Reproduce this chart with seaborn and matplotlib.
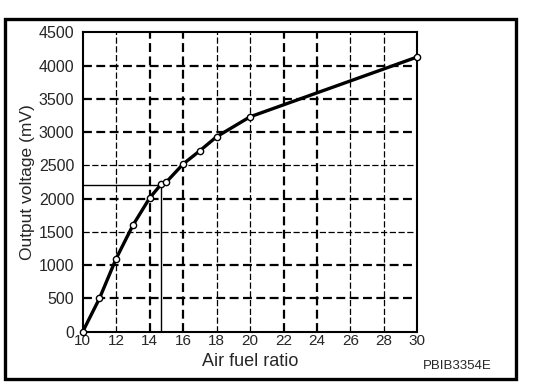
import matplotlib
matplotlib.use('Agg')
import matplotlib.pyplot as plt
import seaborn as sns
import pandas as pd
from matplotlib.patches import Rectangle

# valores
afr = [10, 11, 12, 13, 14, 14.7, 15, 16, 17, 18, 20, 30]
tensao = [0, 500, 1100, 1600, 2010, 2220, 2250, 2520, 2720, 2930, 3230, 4130]
x_ticks = [10, 12, 14, 16, 18, 20, 22, 24, 26, 28, 30]
y_ticks = [0, 500, 1000, 1500, 2000, 2500, 3000, 3500, 4000, 4500]
# linhas de grade grossas / finas
x_grossas = [14, 16, 22, 24]
x_finas = [12, 18, 20, 26, 28]
y_grossas = [500, 1000, 2000, 3000, 3500, 4000]
y_finas = [1500, 2500]
# ponto de referencia (estequiometrico)
ref_x = 14.7
ref_y = 2200

df = pd.DataFrame({'Air fuel ratio': afr, 'Output voltage (mV)': tensao})

sns.set_style('white')
plt.rcParams['font.family'] = ['Liberation Sans', 'DejaVu Sans']

fig = plt.figure(figsize=(5.6, 3.92), dpi=100)
ax = fig.add_axes([0.1477, 0.1538, 0.5977, 0.7638])

#grade tracejada
for v in x_grossas:
    ax.axvline(v, color='black', lw=1.6, ls=(0, (4, 2)), zorder=1)
for v in x_finas:
    ax.axvline(v, color='black', lw=0.9, ls=(0, (5, 2)), zorder=1)
for v in y_grossas:
    ax.axhline(v, color='black', lw=1.6, ls=(0, (4, 2)), zorder=1)
for v in y_finas:
    ax.axhline(v, color='black', lw=0.9, ls=(0, (5, 2)), zorder=1)

#linhas de referencia
ax.plot([10, ref_x], [ref_y, ref_y], color='black', lw=1.0, zorder=2)
ax.plot([ref_x, ref_x], [0, ref_y], color='black', lw=1.0, zorder=2)

sns.lineplot(data=df, x='Air fuel ratio', y='Output voltage (mV)', ax=ax,
             color='black', lw=2.4, marker='o', markersize=4.5,
             markerfacecolor='white', markeredgecolor='black',
             markeredgewidth=1.0, zorder=3, clip_on=False)

ax.set_xlim(10, 30)
ax.set_ylim(0, 4500)
ax.set_xticks(x_ticks)
ax.set_yticks(y_ticks)
ax.set_xticks(range(10, 31), minor=True)
ax.set_yticks(range(0, 4501, 100), minor=True)
ax.tick_params(axis='both', which='both', direction='in', color='black',
               width=1.2)
ax.tick_params(axis='y', which='both', length=6, pad=6, labelsize=11.5)
ax.tick_params(axis='x', which='both', length=6, pad=2, labelsize=11)
for s in ax.spines.values():
    s.set_color('black')
    s.set_linewidth(1.5)
ax.set_xlabel('Air fuel ratio', fontsize=13, labelpad=3)
ax.set_ylabel('Output voltage (mV)', fontsize=12.5, labelpad=3)

#moldura externa
fig.patches.append(Rectangle((5 / 560, 1 - 379 / 392), 511 / 560, 360 / 392,
                             transform=fig.transFigure, fill=False,
                             edgecolor='black', lw=2.4))
fig.text(423 / 560, 1 - 366 / 392, 'PBIB3354E', fontsize=9.5,
         ha='left', va='center')

fig.savefig('out.png', dpi=100)
